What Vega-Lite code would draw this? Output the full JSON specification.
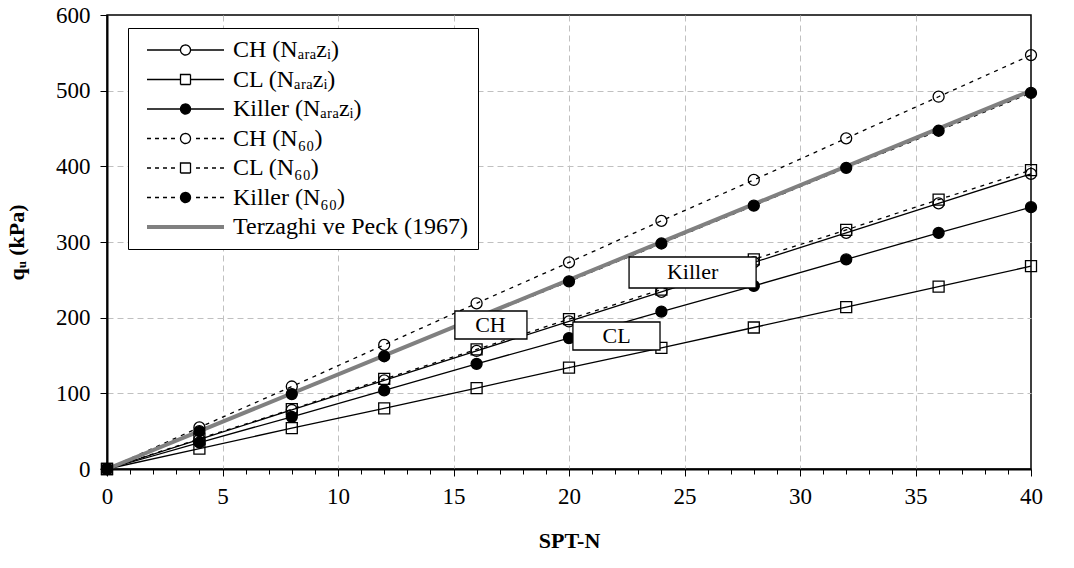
{
  "$schema": "https://vega.github.io/schema/vega-lite/v6.json",
  "width": 924,
  "height": 454,
  "autosize": {"type": "none"},
  "padding": {"left": 107, "top": 15, "right": 43, "bottom": 99},
  "background": "white",
  "config": {
    "view": {"stroke": "black", "strokeWidth": 1.5},
    "font": "Liberation Serif",
    "style": {"guide-label": {"font": "Liberation Serif"}, "guide-title": {"font": "Liberation Serif"}},
    "axis": {"labelFont": "Liberation Serif", "titleFont": "Liberation Serif", "labelColor": "black", "titleColor": "black"},
    "legend": {"labelFont": "Liberation Serif"}
  },
  "resolve": {"axis": {"x": "independent", "y": "independent"}},
  "datasets": {
    "wide": [
      {"N": 0, "CH_arazi": 0, "CL_arazi": 0, "Killer_arazi": 0, "CH_60": 0, "CL_60": 0, "Killer_60": 0, "Terzaghi": 0},
      {"N": 4, "CH_arazi": 39, "CL_arazi": 27, "Killer_arazi": 35, "CH_60": 55, "CL_60": 40, "Killer_60": 50, "Terzaghi": null},
      {"N": 8, "CH_arazi": 78, "CL_arazi": 54, "Killer_arazi": 69, "CH_60": 109, "CL_60": 79, "Killer_60": 99, "Terzaghi": null},
      {"N": 12, "CH_arazi": 117, "CL_arazi": 80, "Killer_arazi": 104, "CH_60": 164, "CL_60": 119, "Killer_60": 149, "Terzaghi": null},
      {"N": 16, "CH_arazi": 156, "CL_arazi": 107, "Killer_arazi": 139, "CH_60": 219, "CL_60": 158, "Killer_60": 199, "Terzaghi": null},
      {"N": 20, "CH_arazi": 195, "CL_arazi": 134, "Killer_arazi": 173, "CH_60": 273, "CL_60": 198, "Killer_60": 248, "Terzaghi": null},
      {"N": 24, "CH_arazi": 234, "CL_arazi": 160, "Killer_arazi": 208, "CH_60": 328, "CL_60": 237, "Killer_60": 298, "Terzaghi": null},
      {"N": 28, "CH_arazi": 273, "CL_arazi": 187, "Killer_arazi": 242, "CH_60": 382, "CL_60": 277, "Killer_60": 348, "Terzaghi": null},
      {"N": 32, "CH_arazi": 312, "CL_arazi": 214, "Killer_arazi": 277, "CH_60": 437, "CL_60": 316, "Killer_60": 398, "Terzaghi": null},
      {"N": 36, "CH_arazi": 351, "CL_arazi": 241, "Killer_arazi": 312, "CH_60": 492, "CL_60": 356, "Killer_60": 447, "Terzaghi": null},
      {"N": 40, "CH_arazi": 390, "CL_arazi": 268, "Killer_arazi": 346, "CH_60": 547, "CL_60": 395, "Killer_60": 497, "Terzaghi": 500}
    ],
    "boxes": [
      {"label": "CH", "N": 16.6, "q": 190, "x1": 15.06, "x2": 18.18, "y1": 171.8, "y2": 208.8},
      {"label": "CL", "N": 22.06, "q": 175.8, "x1": 20.17, "x2": 23.94, "y1": 157.3, "y2": 194.3},
      {"label": "Killer", "N": 25.35, "q": 259.7, "x1": 22.6, "x2": 28.1, "y1": 239.2, "y2": 280.2}
    ]
  },
  "layer": [
    {
      "data": {"name": "wide"},
      "transform": [
        {"fold": ["CH_arazi", "CL_arazi", "Killer_arazi", "Terzaghi"], "as": ["series", "q"]},
        {"filter": "isValid(datum.q)"}
      ],
      "mark": {"type": "line", "strokeWidth": 1.3},
      "encoding": {
        "x": {
          "field": "N", "type": "quantitative", "title": "SPT-N",
          "scale": {"domain": [0, 40], "nice": false},
          "axis": {
            "orient": "bottom",
            "values": [0,1,2,3,4,5,6,7,8,9,10,11,12,13,14,15,16,17,18,19,20,21,22,23,24,25,26,27,28,29,30,31,32,33,34,35,36,37,38,39,40],
            "labelExpr": "datum.value % 5 === 0 ? datum.label : ''",
            "labelOverlap": false, "labelFlush": false,
            "labelFont": "Liberation Serif", "labelFontSize": 23, "labelColor": "black", "labelPadding": 9,
            "tickColor": "black", "tickWidth": 1,
            "tickSize": {"condition": {"test": "datum.value % 5 === 0", "value": 7}, "value": 5},
            "domainColor": "black", "domainWidth": 2,
            "grid": true, "gridColor": "#c0c0c0", "gridDash": [6, 4],
            "gridOpacity": {"condition": {"test": "datum.value % 5 === 0 && datum.value > 0 && datum.value < 40", "value": 1}, "value": 0},
            "titleFont": "Liberation Serif", "titleFontSize": 22, "titleFontWeight": "bold", "titleColor": "black", "titlePadding": 22
          }
        },
        "y": {
          "field": "q", "type": "quantitative", "title": "qᵤ  (kPa)",
          "scale": {"domain": [0, 600], "nice": false},
          "axis": {
            "orient": "left",
            "values": [0, 100, 200, 300, 400, 500, 600],
            "labelFlush": false,
            "labelFont": "Times New Roman", "labelFontSize": 23, "labelColor": "black", "labelPadding": 10,
            "tickColor": "black", "tickSize": 7,
            "domainColor": "black", "domainWidth": 2,
            "grid": true, "gridColor": "#c0c0c0", "gridDash": [6, 4],
            "gridOpacity": {"condition": {"test": "datum.value > 0 && datum.value < 600", "value": 1}, "value": 0},
            "titleFont": "Liberation Serif", "titleFontSize": 22, "titleFontWeight": "bold", "titleColor": "black", "titlePadding": 27
          }
        },
        "color": {
          "field": "series", "type": "nominal",
          "scale": {
            "domain": ["CH_arazi", "CL_arazi", "Killer_arazi", "CH_60", "CL_60", "Killer_60", "Terzaghi"],
            "range": ["black", "black", "black", "black", "black", "black", "#808080"]
          },
          "legend": {
            "orient": "none", "legendX": 21, "legendY": 13,
            "title": null, "padding": 10, "strokeColor": "black", "fillColor": "white",
            "labelFont": "Liberation Serif", "labelFontSize": 24, "labelColor": "black",
            "labelOffset": 71, "rowPadding": 5.5, "symbolSize": 400, "labelLimit": 500,
            "symbolDash": [1, 0],
            "labelExpr": "['CH (Nₐᵣₐzᵢ)', 'CL  (Nₐᵣₐzᵢ)', 'Killer (Nₐᵣₐzᵢ)', 'CH (N₆₀)', 'CL  (N₆₀)', 'Killer (N₆₀)', 'Terzaghi ve Peck (1967)'][indexof(['CH_arazi', 'CL_arazi', 'Killer_arazi', 'CH_60', 'CL_60', 'Killer_60', 'Terzaghi'], datum.value)]",
            "encode": {
              "symbols": {
                "update": {
                  "shape": {"signal": "['M-0.3,0H3.05M4.05,0H7.4M4.05,0A0.5,0.5,0,1,1,3.05,0A0.5,0.5,0,1,1,4.05,0Z', 'M-0.3,0H3.05M4.05,0H7.4M3.05,-0.5H4.05V0.5H3.05Z', 'M-0.3,0H3.05M4.05,0H7.4M4.05,0A0.5,0.5,0,1,1,3.05,0A0.5,0.5,0,1,1,4.05,0Z', 'M-0.3,0H0.1M0.5,0H0.9M1.3,0H1.7M2.1,0H2.5M4.6,0H5M5.4,0H5.8M6.2,0H6.6M7,0H7.4M4.05,0A0.5,0.5,0,1,1,3.05,0A0.5,0.5,0,1,1,4.05,0Z', 'M-0.3,0H0.1M0.5,0H0.9M1.3,0H1.7M2.1,0H2.5M4.6,0H5M5.4,0H5.8M6.2,0H6.6M7,0H7.4M3.05,-0.5H4.05V0.5H3.05Z', 'M-0.3,0H0.1M0.5,0H0.9M1.3,0H1.7M2.1,0H2.5M4.6,0H5M5.4,0H5.8M6.2,0H6.6M7,0H7.4M4.05,0A0.5,0.5,0,1,1,3.05,0A0.5,0.5,0,1,1,4.05,0Z', 'M-0.3,0H7.4'][indexof(['CH_arazi', 'CL_arazi', 'Killer_arazi', 'CH_60', 'CL_60', 'Killer_60', 'Terzaghi'], datum.value)]"},
                  "fill": {"signal": "(datum.value === 'Killer_arazi' || datum.value === 'Killer_60') ? 'black' : 'transparent'"},
                  "stroke": {"signal": "datum.value === 'Terzaghi' ? '#808080' : 'black'"},
                  "strokeWidth": {"signal": "datum.value === 'Terzaghi' ? 4 : 1.3"},
                  "strokeDash": {"value": [1, 0]},
                  "size": {"value": 400},
                  "opacity": {"value": 1}
                }
              }
            }
          }
        }
      }
    },
    {
      "data": {"name": "wide"},
      "transform": [
        {"fold": ["CH_60", "CL_60", "Killer_60"], "as": ["series", "q"]},
        {"filter": "isValid(datum.q)"}
      ],
      "mark": {"type": "line", "strokeWidth": 1.3, "strokeDash": [4, 5]},
      "encoding": {
        "x": {"field": "N", "type": "quantitative", "axis": null},
        "y": {"field": "q", "type": "quantitative", "axis": null},
        "color": {"field": "series", "type": "nominal"}
      }
    },
    {
      "data": {"name": "wide"},
      "transform": [
        {"fold": ["Terzaghi"], "as": ["series", "q"]},
        {"filter": "isValid(datum.q)"}
      ],
      "mark": {"type": "line", "strokeWidth": 4, "color": "#808080"},
      "encoding": {
        "x": {"field": "N", "type": "quantitative", "axis": null},
        "y": {"field": "q", "type": "quantitative", "axis": null}
      }
    },
    {
      "data": {"name": "wide"},
      "transform": [
        {"fold": ["CH_arazi", "CL_arazi", "Killer_arazi", "CH_60", "CL_60", "Killer_60"], "as": ["series", "q"]},
        {"filter": "isValid(datum.q)"}
      ],
      "mark": {"type": "point", "size": 121, "strokeWidth": 1.3, "opacity": 1, "stroke": "black"},
      "encoding": {
        "x": {"field": "N", "type": "quantitative", "axis": null},
        "y": {"field": "q", "type": "quantitative", "axis": null},
        "shape": {
          "field": "series", "type": "nominal",
          "scale": {
            "domain": ["CH_arazi", "CL_arazi", "Killer_arazi", "CH_60", "CL_60", "Killer_60"],
            "range": ["circle", "square", "circle", "circle", "square", "circle"]
          },
          "legend": null
        },
        "fill": {
          "field": "series", "type": "nominal",
          "scale": {
            "domain": ["CH_arazi", "CL_arazi", "Killer_arazi", "CH_60", "CL_60", "Killer_60"],
            "range": ["transparent", "transparent", "black", "transparent", "transparent", "black"]
          },
          "legend": null
        }
      }
    },
    {
      "data": {"name": "boxes"},
      "mark": {"type": "rect", "fill": "white", "stroke": "black", "strokeWidth": 1.3},
      "encoding": {
        "x": {"field": "x1", "type": "quantitative", "axis": null},
        "x2": {"field": "x2"},
        "y": {"field": "y1", "type": "quantitative", "axis": null},
        "y2": {"field": "y2"}
      }
    },
    {
      "data": {"name": "boxes"},
      "mark": {"type": "text", "font": "Liberation Serif", "fontSize": 22, "color": "black", "align": "center", "baseline": "middle"},
      "encoding": {
        "x": {"field": "N", "type": "quantitative", "axis": null},
        "y": {"field": "q", "type": "quantitative", "axis": null},
        "text": {"field": "label"}
      }
    }
  ]
}
